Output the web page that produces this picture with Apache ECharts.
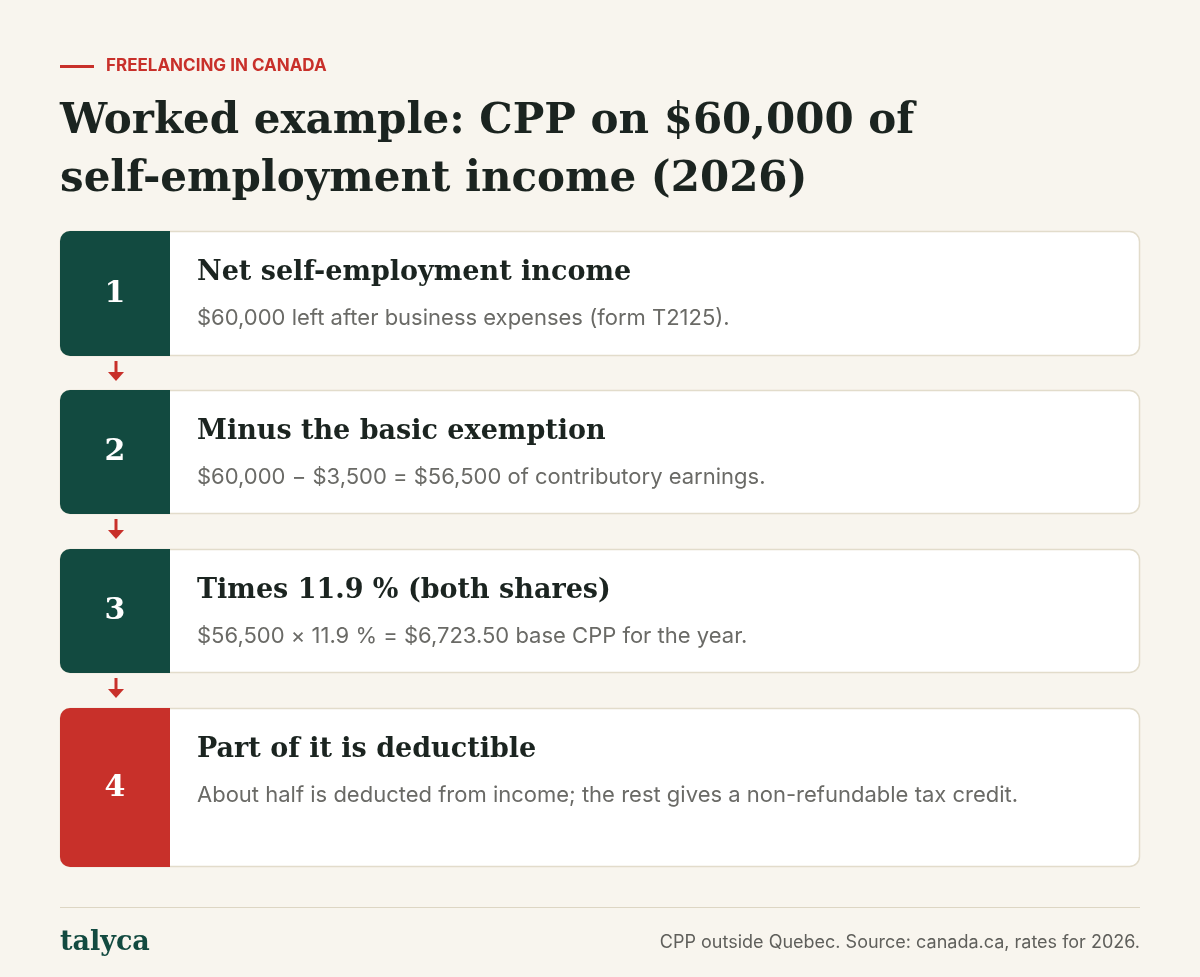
<!DOCTYPE html>
<html><head><meta charset="utf-8">
<script src="https://cdn.jsdelivr.net/npm/echarts@6/dist/echarts.min.js"></script>
<style>html,body{margin:0;padding:0;background:#f8f5ee}#c{width:1200px;height:977px}</style>
</head><body><div id="c"></div>
<script>
const kicker = "FREELANCING IN CANADA";
const titleLines = ["Worked example: CPP on $60,000 of", "self-employment income (2026)"];
const stepNumbers = ["1", "2", "3", "4"];
const stepTitles = ["Net self-employment income", "Minus the basic exemption", "Times 11.9 % (both shares)", "Part of it is deductible"];
const stepTexts = [
  "$60,000 left after business expenses (form T2125).",
  "$60,000 \u2212 $3,500 = $56,500 of contributory earnings.",
  "$56,500 \u00d7 11.9 % = $6,723.50 base CPP for the year.",
  "About half is deducted from income; the rest gives a non-refundable tax credit."
];
const brand = "talyca";
const source = "CPP outside Quebec. Source: canada.ca, rates for 2026.";

const serif = "'DejaVu Serif', serif";
const sans = "Inter, 'Noto Sans', sans-serif";
const green = "#124a40", red = "#c8302a";
const cardTops = [231, 390, 549, 708];
const cardHeights = [124, 123, 123, 158];

const g = [];
g.push({type:'rect', shape:{x:0,y:0,width:1200,height:977}, style:{fill:'#f8f5ee'}});
g.push({type:'rect', shape:{x:60,y:65,width:34,height:3}, style:{fill:red}});
g.push({type:'text', x:106, y:66, style:{text:kicker, font:"bold 17px "+sans, fill:red, textVerticalAlign:'middle'}});
titleLines.forEach((t,i)=>g.push({type:'text', x:60, y:122+i*58, style:{text:t, font:"bold 42px "+serif, fill:'#1b2420', textVerticalAlign:'middle'}}));
stepTitles.forEach((t,i)=>{
  const y = cardTops[i], h = cardHeights[i];
  g.push({type:'rect', shape:{x:60.5,y:y+0.5,width:1079,height:h,r:10}, style:{fill:'#ffffff', stroke:'#e2dccb', lineWidth:1.5}});
  g.push({type:'rect', shape:{x:60,y:y,width:110,height:h+1,r:[10,0,0,10]}, style:{fill:i===3?red:green}});
  g.push({type:'text', x:115, y:y+h/2+1, style:{text:stepNumbers[i], font:"bold 30px "+serif, fill:'#fff', textAlign:'center', textVerticalAlign:'middle'}});
  g.push({type:'text', x:197, y:y+42, style:{text:t, font:"bold 27px "+serif, fill:'#1b2420', textVerticalAlign:'middle'}});
  g.push({type:'text', x:197, y:y+69, style:{text:stepTexts[i], font:"22px "+sans, fill:'#6a6a66', width:870, overflow:'break', lineHeight:37}});
  if (i<3) {
    const ay = y+h+6;
    g.push({type:'rect', shape:{x:114.5,y:ay,width:3,height:12}, style:{fill:red}});
    g.push({type:'polygon', shape:{points:[[108,ay+11],[124,ay+11],[116,ay+20]]}, style:{fill:red}});
  }
});
g.push({type:'rect', shape:{x:60,y:907,width:1080,height:1}, style:{fill:'#ddd6c4'}});
g.push({type:'text', x:60, y:943, style:{text:brand, font:"bold 27px "+serif, fill:green, textVerticalAlign:'middle'}});
g.push({type:'text', x:1140, y:943, style:{text:source, font:"18px "+sans, fill:'#5f5f5b', textAlign:'right', textVerticalAlign:'middle'}});

const chart = echarts.init(document.getElementById('c'), null, {renderer:'canvas'});
chart.setOption({animation:false, graphic:g});
</script></body></html>
